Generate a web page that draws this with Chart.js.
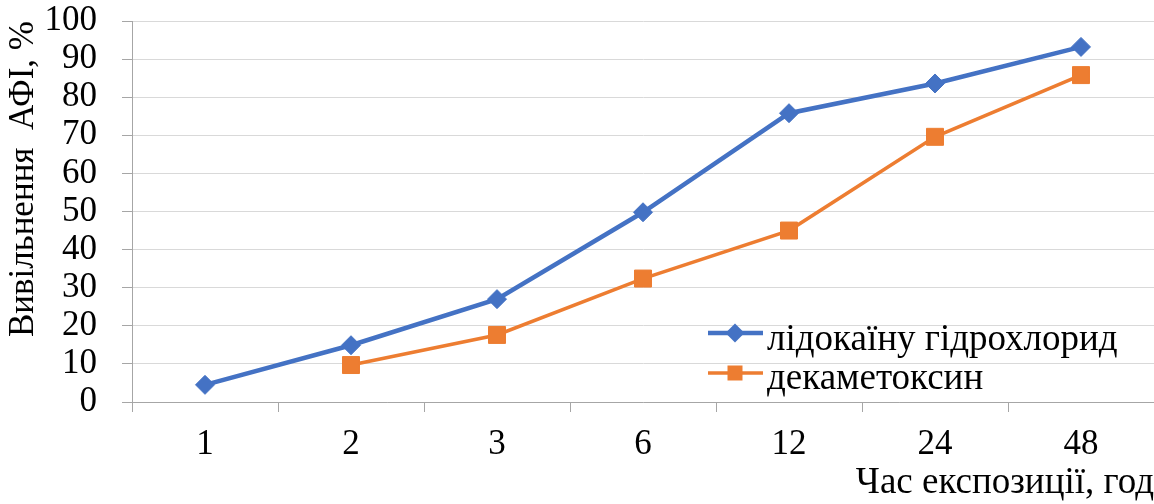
<!DOCTYPE html>
<html lang="uk">
<head>
<meta charset="utf-8">
<title>Вивільнення АФІ</title>
<script src="https://cdn.jsdelivr.net/npm/chart.js@4.4.1/dist/chart.umd.min.js"></script>
<style>
  html, body { margin: 0; padding: 0; background: #ffffff; overflow: hidden; }
  #chart { display: block; width: 1154px; height: 504px; }
</style>
</head>
<body>
<canvas id="chart" width="1154" height="504"></canvas>
<script>
// Exposure time categories (hours)
const categories = ['1', '2', '3', '6', '12', '24', '48'];

// Release of the active substance, %
const lidocaineValues = [4.5, 14.9, 27.0, 49.8, 75.8, 83.6, 93.2];
const decamethoxinValues = [null, 9.7, 17.6, 32.4, 45.0, 69.6, 85.8];

const seriesNames = ['лідокаїну гідрохлорид', 'декаметоксин'];
const yAxisTitle = 'Вивільнення  АФІ, %';
const xAxisTitle = 'Час експозиції, год';

const BLUE = '#4472C4';
const ORANGE = '#ED7D31';
const SERIF = '"Liberation Serif", "Times New Roman", serif';

// Legend drawn inside the plotting area, lower right
const innerLegend = {
  id: 'innerLegend',
  afterDatasetsDraw(chart) {
    const ctx = chart.ctx;
    const rows = [
      { y: 333, baseline: 350, ds: chart.data.datasets[0] },
      { y: 373, baseline: 389, ds: chart.data.datasets[1] }
    ];
    ctx.save();
    rows.forEach(r => {
      const ds = r.ds;
      ctx.strokeStyle = ds.borderColor;
      ctx.lineWidth = ds.borderWidth;
      ctx.beginPath();
      ctx.moveTo(708, r.y);
      ctx.lineTo(763, r.y);
      ctx.stroke();
      ctx.fillStyle = ds.borderColor;
      ctx.beginPath();
      if (ds.pointStyle === 'rectRot') {
        const s = 9.5;
        ctx.moveTo(735, r.y - s);
        ctx.lineTo(735 + s, r.y);
        ctx.lineTo(735, r.y + s);
        ctx.lineTo(735 - s, r.y);
        ctx.closePath();
      } else {
        ctx.rect(735 - 7.5, r.y - 7.5, 15, 15);
      }
      ctx.fill();
      ctx.fillStyle = '#000000';
      ctx.font = '37px ' + SERIF;
      ctx.textAlign = 'left';
      ctx.textBaseline = 'alphabetic';
      ctx.fillText(ds.label, 767, r.baseline);
    });
    ctx.restore();
  }
};

new Chart(document.getElementById('chart'), {
  type: 'line',
  data: {
    labels: categories,
    datasets: [
      {
        label: seriesNames[0],
        data: lidocaineValues,
        borderColor: BLUE,
        backgroundColor: BLUE,
        borderWidth: 4.5,
        pointStyle: 'rectRot',
        pointRadius: 9.5,
        pointBorderWidth: 1,
        pointBackgroundColor: BLUE,
        pointBorderColor: BLUE,
        tension: 0,
        spanGaps: false
      },
      {
        label: seriesNames[1],
        data: decamethoxinValues,
        borderColor: ORANGE,
        backgroundColor: ORANGE,
        borderWidth: 3.5,
        pointStyle: 'rect',
        pointRadius: 12,
        pointBorderWidth: 1,
        pointBackgroundColor: ORANGE,
        pointBorderColor: ORANGE,
        tension: 0,
        spanGaps: false
      }
    ]
  },
  options: {
    responsive: false,
    maintainAspectRatio: false,
    devicePixelRatio: 1,
    animation: false,
    layout: {
      autoPadding: false,
      padding: { top: 21, right: 0, bottom: 0, left: 0 }
    },
    plugins: {
      legend: { display: false },
      tooltip: { enabled: false }
    },
    scales: {
      x: {
        type: 'category',
        offset: true,
        grid: {
          offset: true,
          drawOnChartArea: false,
          drawTicks: true,
          tickLength: 10,
          tickColor: '#a6a6a6',
          color: '#a6a6a6'
        },
        border: { display: true, color: '#a6a6a6', width: 1 },
        ticks: {
          color: '#000000',
          padding: 12,
          maxRotation: 0,
          autoSkip: false,
          font: { family: SERIF, size: 35, lineHeight: 1.2 }
        },
        title: {
          display: true,
          text: xAxisTitle,
          align: 'end',
          color: '#000000',
          padding: { top: 0, bottom: 0 },
          font: { family: SERIF, size: 37, lineHeight: 1.1 }
        },
        afterFit(scale) {
          scale.height = 102;
          scale.paddingLeft = 0;
          scale.paddingRight = 0;
        }
      },
      y: {
        min: 0,
        max: 100,
        ticks: {
          stepSize: 10,
          autoSkip: false,
          color: '#000000',
          padding: 25,
          font: { family: SERIF, size: 35, lineHeight: 1.2 }
        },
        grid: {
          color: '#d9d9d9',
          lineWidth: 1,
          drawTicks: true,
          tickLength: 10,
          tickColor: '#a6a6a6'
        },
        border: { display: true, color: '#a6a6a6', width: 1 },
        title: {
          display: true,
          text: yAxisTitle,
          align: 'end',
          color: '#000000',
          padding: { top: 3, bottom: 0 },
          font: { family: SERIF, size: 35, lineHeight: 1.2 }
        },
        afterFit(scale) {
          scale.width = 132;
          scale.paddingTop = 0;
          scale.paddingBottom = 0;
          scale.paddingLeft = 0;
          scale.paddingRight = 0;
        }
      }
    }
  },
  plugins: [innerLegend]
});
</script>
</body>
</html>
